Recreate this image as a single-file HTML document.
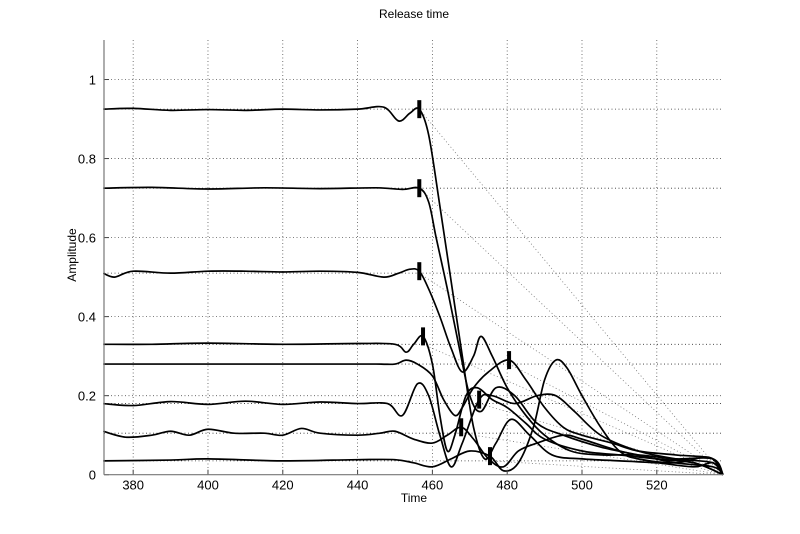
<!DOCTYPE html>
<html><head><meta charset="utf-8"><style>
body{margin:0;background:#fff;width:800px;height:534px;overflow:hidden}
svg{display:block;font-family:"Liberation Sans",Arial,sans-serif}
</style></head><body>
<svg id="chart" width="800" height="534" viewBox="0 0 800 534">
<text x="414" y="18" font-size="12" text-anchor="middle">Release time</text>
<text x="414" y="502" font-size="12" text-anchor="middle">Time</text>
<text x="76" y="255" font-size="12" text-anchor="middle" transform="rotate(-90 76 255)">Amplitude</text>
<g id="grid"></g>
<g id="guides"></g>
<g id="series"></g>
<g id="markers"></g>
<g id="axes"></g>
</svg>
<script>
const xTicks=[380,400,420,440,460,480,500,520];
const yTicks=[0,0.2,0.4,0.6,0.8,1];
const yTickLabels=["0","0.2","0.4","0.6","0.8","1"];
const levels=[0.925,0.725,0.51,0.33,0.28,0.18,0.105,0.035];
const releaseT=[456.5,456.5,456.5,457.5,480.5,472.5,467.7,475.4];
const releaseV=[0.925,0.725,0.515,0.35,0.29,0.19,0.12,0.047];
const s1t=[372,380,390,400,410,420,430,440,447,451,454,456.5,459,462,465,468,471,474,477,481,486,492,500,510,520,530,535,537.7];
const s1v=[0.925,0.927,0.922,0.924,0.922,0.925,0.923,0.925,0.93,0.895,0.915,0.925,0.86,0.68,0.49,0.3,0.12,0.04,0.08,0.14,0.1,0.05,0.04,0.035,0.03,0.02,0.03,0];
const s2t=[372,385,400,415,430,445,452,456.5,459,461,464,467,470,473,477,482,488,495,505,515,525,535,537.7];
const s2v=[0.725,0.727,0.723,0.726,0.724,0.726,0.722,0.725,0.69,0.6,0.47,0.33,0.2,0.16,0.22,0.2,0.13,0.1,0.07,0.05,0.03,0.02,0];
const s3t=[372,375,380,390,400,410,420,430,440,447,451,454,456.5,459,462,465,468,471,473,476,480,485,490,497,505,515,525,535,537.7];
const s3v=[0.51,0.5,0.515,0.51,0.515,0.515,0.513,0.515,0.512,0.5,0.51,0.52,0.515,0.47,0.4,0.32,0.26,0.3,0.35,0.3,0.22,0.15,0.1,0.06,0.05,0.05,0.04,0.04,0];
const s4t=[372,385,400,420,440,450,453,455,457.5,460,462,464,466,469,472,476,480,485,490,500,510,520,530,537.7];
const s4v=[0.33,0.33,0.333,0.33,0.332,0.33,0.31,0.33,0.35,0.28,0.15,0.06,0.1,0.2,0.22,0.19,0.17,0.13,0.09,0.06,0.05,0.04,0.03,0];
const s5t=[372,390,410,430,445,450,453,456,460,463,466,468,471,475,480.5,485,490,495,500,508,515,525,535,537.7];
const s5v=[0.28,0.28,0.28,0.28,0.28,0.28,0.29,0.28,0.25,0.19,0.15,0.17,0.22,0.26,0.29,0.24,0.17,0.12,0.1,0.08,0.06,0.05,0.04,0];
const s6t=[372,380,390,400,410,420,430,440,448,452,456,459,462,465,468,472.5,476,482,488,493,498,505,515,525,535,537.7];
const s6v=[0.18,0.175,0.185,0.178,0.186,0.178,0.184,0.18,0.18,0.15,0.23,0.2,0.1,0.02,0.08,0.19,0.2,0.18,0.2,0.2,0.16,0.1,0.06,0.04,0.03,0];
const s7t=[372,378,385,390,395,400,407,415,420,425,430,440,446,450,455,460,464,467.7,471,475,479,483,488,495,500,510,520,530,537.7];
const s7v=[0.11,0.095,0.1,0.11,0.1,0.115,0.105,0.105,0.1,0.117,0.105,0.1,0.105,0.11,0.09,0.08,0.1,0.12,0.09,0.04,0.02,0.06,0.08,0.1,0.09,0.06,0.04,0.03,0];
const s8t=[372,390,400,420,440,450,455,460,465,470,475.4,479,483,487,490,493,496,500,505,510,515,525,533,536,537.7];
const s8v=[0.035,0.037,0.04,0.035,0.038,0.038,0.03,0.02,0.04,0.06,0.047,0.01,0.03,0.12,0.24,0.29,0.27,0.2,0.12,0.06,0.04,0.03,0.045,0.03,0];
const seriesT=[s1t,s2t,s3t,s4t,s5t,s6t,s7t,s8t];
const seriesV=[s1v,s2v,s3v,s4v,s5v,s6v,s7v,s8v];

const X0=104,X1=723,Y0=474.7,Y1=40,XMIN=372.2,XMAX=537.7,YMIN=0,YMAX=1.1;
const xs=t=>X0+(t-XMIN)/(XMAX-XMIN)*(X1-X0);
const ys=v=>Y0-(v-YMIN)/(YMAX-YMIN)*(Y0-Y1);
const NS="http://www.w3.org/2000/svg";
function mk(tag,parent,attrs){const e=document.createElementNS(NS,tag);for(const k in attrs)e.setAttribute(k,attrs[k]);parent.appendChild(e);return e;}
const grid=document.getElementById('grid'),guides=document.getElementById('guides'),ser=document.getElementById('series'),mks=document.getElementById('markers'),axes=document.getElementById('axes');
xTicks.forEach(t=>{const l=mk('line',grid,{x1:xs(t),x2:xs(t),y1:Y1,y2:Y0,stroke:'#555','stroke-width':0.8,'stroke-dasharray':'1 2.5'});


const tk=mk('line',axes,{x1:xs(t),x2:xs(t),y1:Y0,y2:Y0-5,stroke:'#444','stroke-width':1});


const tx=mk('text',axes,{x:xs(t),y:Y0+15,'font-size':13,'text-anchor':'middle'});tx.textContent=t;

});
yTicks.forEach((v,i)=>{if(v>0){const l=mk('line',grid,{x1:X0,x2:X1,y1:ys(v),y2:ys(v),stroke:'#555','stroke-width':0.8,'stroke-dasharray':'1 2.5'});

}
const tk=mk('line',axes,{x1:X0,x2:X0+5,y1:ys(v),y2:ys(v),stroke:'#444','stroke-width':1});


const tx=mk('text',axes,{x:X0-8,y:ys(v)+5,'font-size':13,'text-anchor':'end'});tx.textContent=yTickLabels[i];

});
levels.forEach(v=>{const l=mk('line',guides,{x1:X0,x2:X1,y1:ys(v),y2:ys(v),stroke:'#333','stroke-width':0.8,'stroke-dasharray':'1 2.5'});

});
releaseT.forEach((t,i)=>{const l=mk('line',guides,{x1:xs(t),y1:ys(levels[i]),x2:xs(XMAX),y2:ys(0),stroke:'#777','stroke-width':0.8,'stroke-dasharray':'1 2.5'});

});
function smooth(pts){let d='M'+pts[0][0]+','+pts[0][1];for(let i=0;i<pts.length-1;i++){const p0=pts[Math.max(0,i-1)],p1=pts[i],p2=pts[i+1],p3=pts[Math.min(pts.length-1,i+2)];
const c1x=p1[0]+(p2[0]-p0[0])/6,c1y=p1[1]+(p2[1]-p0[1])/6,c2x=p2[0]-(p3[0]-p1[0])/6,c2y=p2[1]-(p3[1]-p1[1])/6;
d+=' C'+c1x.toFixed(2)+','+c1y.toFixed(2)+' '+c2x.toFixed(2)+','+c2y.toFixed(2)+' '+p2[0].toFixed(2)+','+p2[1].toFixed(2);}return d;}
seriesT.forEach((ts,k)=>{const pts=ts.map((t,i)=>[xs(t),ys(seriesV[k][i])]);
const p=mk('path',ser,{d:smooth(pts),fill:'none',stroke:'#000','stroke-width':1.7});

});
releaseT.forEach((t,i)=>{const r=mk('rect',mks,{x:xs(t)-2,y:ys(releaseV[i])-9,width:4,height:18,fill:'#000'});

});
const ax=mk('line',axes,{x1:X0,x2:X0,y1:Y1,y2:Y0,stroke:'#777','stroke-width':1.2});


const bx=mk('line',axes,{x1:X0,x2:X1,y1:Y0,y2:Y0,stroke:'#777','stroke-width':1.2});


</script>
</body></html>
